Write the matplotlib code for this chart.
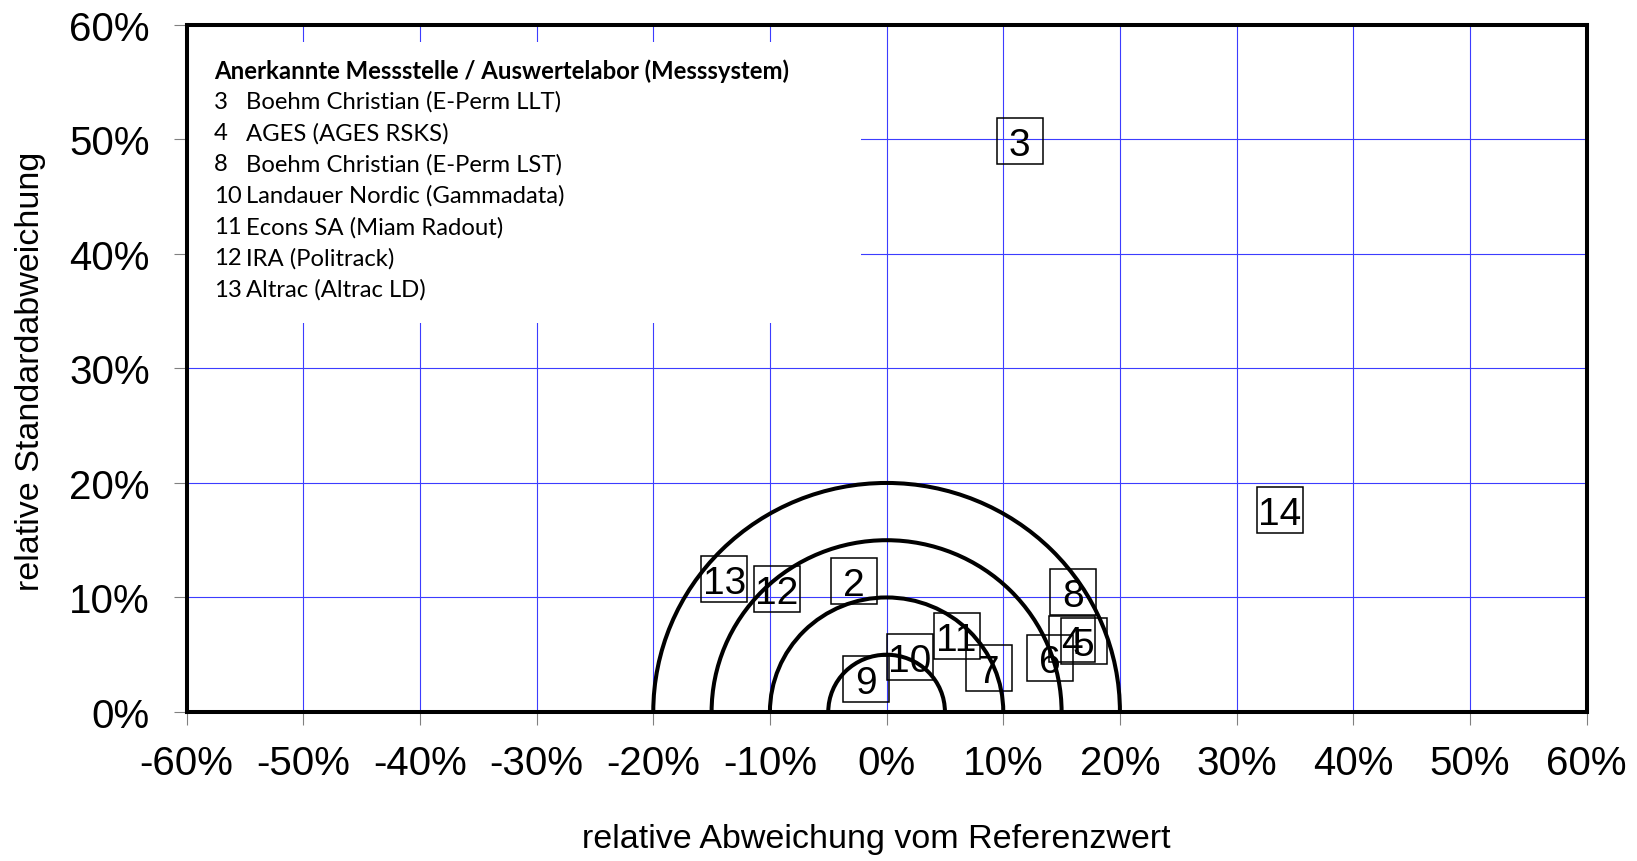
import matplotlib
matplotlib.use("Agg")
import matplotlib.pyplot as plt
from matplotlib.patches import Arc, Rectangle
from matplotlib.ticker import FuncFormatter

plt.rcParams['font.family'] = ['Liberation Sans', 'DejaVu Sans']

# Teilnehmer: Nummer, relative Abweichung (%), relative Standardabweichung (%)
labels = ["2", "3", "4", "5", "6", "7", "8", "9", "10", "11", "12", "13", "14"]
abweichung = [-2.8, 11.4, 15.9, 16.9, 14.0, 8.8, 16.0, -1.8, 2.0, 6.0, -9.4, -13.9, 33.7]
stdabw = [11.4, 49.9, 6.4, 6.2, 4.7, 3.8, 10.5, 2.9, 4.8, 6.6, 10.7, 11.6, 17.6]

radien = [5, 10, 15, 20]

legend_title = "Anerkannte Messstelle / Auswertelabor (Messsystem)"
legend_nr = ["3", "4", "8", "10", "11", "12", "13"]
legend_name = ["Boehm Christian (E-Perm LLT)", "AGES (AGES RSKS)",
               "Boehm Christian (E-Perm LST)", "Landauer Nordic (Gammadata)",
               "Econs SA (Miam Radout)", "IRA (Politrack)", "Altrac (Altrac LD)"]

xticks = list(range(-60, 61, 10))
yticks = list(range(0, 61, 10))

fig = plt.figure(figsize=(16.37, 8.62), dpi=100)
ax = fig.add_axes([0.1140, 0.1729, 0.8552, 0.7970])
ax.set_xlim(-60, 60)
ax.set_ylim(0, 60)

ax.set_xticks(xticks)
ax.set_yticks(yticks)
pct = FuncFormatter(lambda v, p: "%d%%" % v)
ax.xaxis.set_major_formatter(pct)
ax.yaxis.set_major_formatter(pct)
ax.tick_params(axis='both', direction='out', length=9.4, width=0.8,
               color='#808080', labelsize=29)
ax.tick_params(axis='x', pad=14)
ax.tick_params(axis='y', pad=17)
ax.grid(True, color='#3c3cff', lw=0.8)

for s in ax.spines.values():
    s.set_linewidth(2.9)
    s.set_color('black')
    s.set_zorder(5)

# weisser Hintergrund der Legende (unterbricht das Gitter)
ax.add_patch(Rectangle((0, 0.566), 0.4816, 0.409, transform=ax.transAxes,
                       facecolor='white', edgecolor='none', zorder=1.8))

for r in radien:
    ax.add_patch(Arc((0, 0), 2 * r, 2 * r, theta1=0, theta2=180,
                     color='black', lw=2.9, zorder=2))

ax.plot(abweichung, stdabw, 's', ms=33.6, mfc='none', mec='black', mew=1.1,
        zorder=3, clip_on=False)
for lab, x, y in zip(labels, abweichung, stdabw):
    ax.text(x, y, lab, ha='center', va='center_baseline', fontsize=28, zorder=4)

# Legende
lf = ['Lato', 'DejaVu Sans']
fs = 17.2
y0 = (713 - 71) / 687
dy = 31.3 / 687
ax.text(0.0195, y0, legend_title, transform=ax.transAxes, ha='left', va='center',
        fontsize=fs, fontweight='bold', family=lf, zorder=4)
for i, (nr, name) in enumerate(zip(legend_nr, legend_name)):
    yy = y0 - (i + 1) * dy
    ax.text(0.0195, yy, nr, transform=ax.transAxes, ha='left', va='center',
            fontsize=fs, family=lf, zorder=4)
    ax.text(0.0425, yy, name, transform=ax.transAxes, ha='left', va='center',
            fontsize=fs, family=lf, zorder=4)

fig.text(876 / 1637, 1 - 840 / 862, "relative Abweichung vom Referenzwert",
         ha='center', va='center', fontsize=24.5)
fig.text(31 / 1637, 1 - 371.7 / 862, "relative Standardabweichung",
         ha='center', va='center', rotation=90, fontsize=24.5)

fig.savefig("out.png", dpi=100, facecolor='white')
